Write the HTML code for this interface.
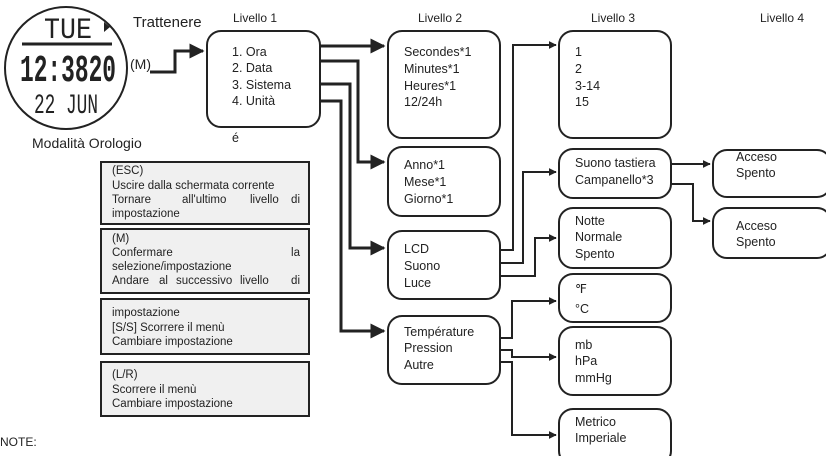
<!DOCTYPE html>
<html><head><meta charset="utf-8"><style>
body{margin:0;background:#fff;}
svg text{font-family:"Liberation Sans",sans-serif;fill:#222;}
</style></head><body>
<svg width="826" height="456" viewBox="0 0 826 456" xmlns="http://www.w3.org/2000/svg">
<defs><marker id="a" viewBox="0 0 10 10" refX="9" refY="5" markerWidth="4" markerHeight="4" orient="auto"><path d="M0,0L10,5L0,10z" fill="#222"/></marker>
<marker id="b" viewBox="0 0 10 10" refX="9" refY="5" markerWidth="5" markerHeight="5" orient="auto"><path d="M0,0L10,5L0,10z" fill="#222"/></marker></defs>
<!-- watch -->
<circle cx="66" cy="68" r="61" fill="#fff" stroke="#222" stroke-width="2"/>
<text x="68" y="38" font-size="30" text-anchor="middle" style="font-family:'Liberation Mono',monospace" textLength="48" lengthAdjust="spacingAndGlyphs">TUE</text>
<path d="M104,22 l6,5 l-6,5z" fill="#222"/>
<line x1="22" y1="44" x2="112" y2="44" stroke="#222" stroke-width="3"/>
<text x="68" y="81" font-size="38" font-weight="bold" text-anchor="middle" style="font-family:'Liberation Mono',monospace" textLength="96" lengthAdjust="spacingAndGlyphs">12:3820</text>
<text x="66" y="113" font-size="28" text-anchor="middle" style="font-family:'Liberation Mono',monospace" textLength="64" lengthAdjust="spacingAndGlyphs">22 JUN</text>
<text x="133" y="27" font-size="15">Trattenere</text>
<text x="130" y="69" font-size="14">(M)</text>
<text x="32" y="148" font-size="14">Modalità Orologio</text>
<polyline points="150,72 175,72 175,51 203,51" fill="none" stroke="#222" stroke-width="3" marker-end="url(#b)"/>
<g font-size="12"><text x="233" y="22">Livello 1</text><text x="418" y="22">Livello 2</text><text x="591" y="22">Livello 3</text><text x="760" y="22">Livello 4</text></g>
<g fill="#fff" stroke="#222" stroke-width="2">
<rect x="207" y="31" width="113" height="96" rx="14"/>
<rect x="388" y="31" width="112" height="107" rx="14"/>
<rect x="388" y="147" width="112" height="69" rx="14"/>
<rect x="388" y="231" width="112" height="68" rx="14"/>
<rect x="388" y="316" width="112" height="68" rx="14"/>
<rect x="559" y="31" width="112" height="107" rx="14"/>
<rect x="559" y="149" width="112" height="49" rx="14"/>
<rect x="559" y="208" width="112" height="60" rx="14"/>
<rect x="559" y="274" width="112" height="48" rx="14"/>
<rect x="559" y="327" width="112" height="68" rx="14"/>
<rect x="559" y="409" width="112" height="56" rx="14"/>
<rect x="713" y="150" width="118" height="47" rx="14"/>
<rect x="713" y="208" width="118" height="50" rx="14"/>
</g>
<g font-size="12.5">
<text x="232" y="56">1. Ora</text><text x="232" y="72">2. Data</text><text x="232" y="89">3. Sistema</text><text x="232" y="105">4. Unità</text>
<text x="232" y="142">é</text>
<text x="404" y="56">Secondes*1</text><text x="404" y="73">Minutes*1</text><text x="404" y="90">Heures*1</text><text x="404" y="106">12/24h</text>
<text x="404" y="169">Anno*1</text><text x="404" y="186">Mese*1</text><text x="404" y="203">Giorno*1</text>
<text x="404" y="253">LCD</text><text x="404" y="270">Suono</text><text x="404" y="287">Luce</text>
<text x="404" y="336">Température</text><text x="404" y="352">Pression</text><text x="404" y="369">Autre</text>
<text x="575" y="56">1</text><text x="575" y="73">2</text><text x="575" y="90">3-14</text><text x="575" y="106">15</text>
<text x="575" y="167">Suono tastiera</text><text x="575" y="184">Campanello*3</text>
<text x="575" y="225">Notte</text><text x="575" y="241">Normale</text><text x="575" y="258">Spento</text>
<text x="575" y="293">℉</text><text x="575" y="313">°C</text>
<text x="575" y="349">mb</text><text x="575" y="365">hPa</text><text x="575" y="382">mmHg</text>
<text x="575" y="426">Metrico</text><text x="575" y="442">Imperiale</text>
<text x="736" y="161">Acceso</text><text x="736" y="177">Spento</text>
<text x="736" y="230">Acceso</text><text x="736" y="246">Spento</text>
</g>
<g fill="none" stroke="#222" stroke-width="3" marker-end="url(#b)">
<polyline points="320,46 384,46"/>
<polyline points="320,61 358,61 358,162 384,162"/>
<polyline points="320,84 350,84 350,248 384,248"/>
<polyline points="320,101 341,101 341,331 384,331"/>
</g>
<g fill="none" stroke="#222" stroke-width="2" marker-end="url(#a)">
<polyline points="500,250 513,250 513,45 556,45"/>
<polyline points="500,263 523,263 523,172 556,172"/>
<polyline points="500,276 535,276 535,238 556,238"/>
<polyline points="500,338 512,338 512,301 556,301"/>
<polyline points="500,350 512,350 512,357 556,357"/>
<polyline points="500,362 512,362 512,435 556,435"/>
<polyline points="671,164 710,164"/>
<polyline points="671,184 693,184 693,221 710,221"/>
</g>
<g fill="#f0f0f0" stroke="#222" stroke-width="2">
<rect x="101" y="162" width="208" height="62"/>
<rect x="101" y="229" width="208" height="64"/>
<rect x="101" y="299" width="208" height="55"/>
<rect x="101" y="362" width="208" height="54"/>
</g>
<g font-size="11.5">
<text x="112" y="174">(ESC)</text>
<text x="112" y="189">Uscire dalla schermata corrente</text>
<text x="112" y="203">Tornare</text><text x="182" y="203">all'ultimo</text><text x="250" y="203">livello</text><text x="300" y="203" text-anchor="end">di</text>
<text x="112" y="217">impostazione</text>
<text x="112" y="242">(M)</text>
<text x="112" y="256">Confermare</text><text x="300" y="256" text-anchor="end">la</text>
<text x="112" y="270">selezione/impostazione</text>
<text x="112" y="284">Andare</text><text x="159" y="284">al</text><text x="176" y="284">successivo</text><text x="240" y="284">livello</text><text x="300" y="284" text-anchor="end">di</text>
<text x="112" y="316">impostazione</text>
<text x="112" y="331">[S/S] Scorrere il menù</text>
<text x="112" y="345">Cambiare impostazione</text>
<text x="112" y="378">(L/R)</text>
<text x="112" y="393">Scorrere il menù</text>
<text x="112" y="407">Cambiare impostazione</text>
</g>
<text x="0" y="446" font-size="12">NOTE:</text>
</svg>
</body></html>
